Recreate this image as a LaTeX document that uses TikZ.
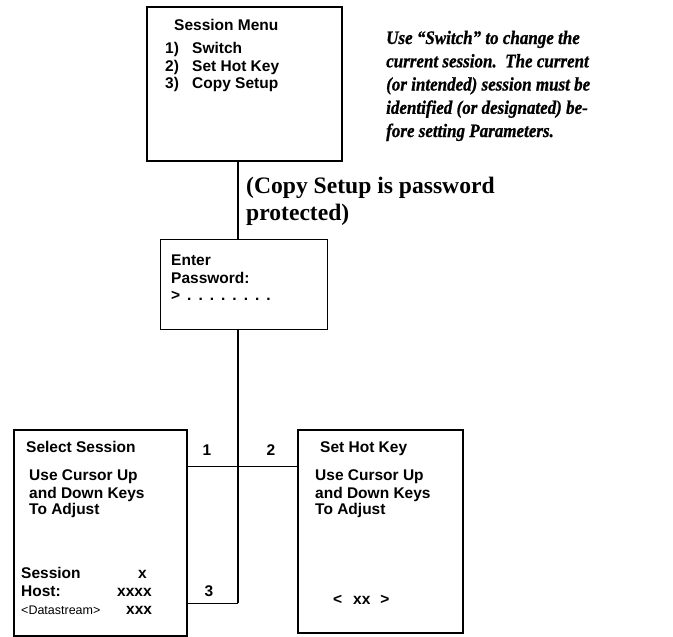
\documentclass[tikz,border=0pt]{standalone}
\usepackage{fontspec}
\setmainfont{Liberation Serif}
\setsansfont{Liberation Sans}
\newfontfamily\notefont{Liberation Serif}[BoldItalicFeatures={FakeBold=1}]
\begin{document}
\begin{tikzpicture}[x=1pt,y=-1pt,
  box/.style={draw, line width=1.6pt, inner sep=0pt, anchor=north west},
  thinbox/.style={draw, line width=1.1pt, inner sep=0pt, anchor=north west},
  lbl/.style={font=\sffamily\bfseries\fontsize{15.5}{17.5}\selectfont, anchor=base west, inner sep=0pt},
  small/.style={font=\sffamily\fontsize{12.5}{14}\selectfont, anchor=base west, inner sep=0pt},
  num/.style={font=\sffamily\bfseries\fontsize{15.5}{17.5}\selectfont, anchor=base, inner sep=0pt},
  inote/.style={font=\notefont\bfseries\itshape\fontsize{17}{23}\selectfont, anchor=base west, inner sep=0pt},
  bnote/.style={font=\rmfamily\bfseries\fontsize{23.6}{27}\selectfont, anchor=base west, inner sep=0pt},
  heavy/.style={line width=1.6pt},
  light/.style={line width=0.9pt}]
\useasboundingbox (0,0) rectangle (673,637);

% boxes
\node[box, minimum width=195pt, minimum height=154pt] (menu) at (146,6) {};
\node[thinbox, minimum width=167pt, minimum height=90pt] (pwd) at (160,239) {};
\node[box, minimum width=173pt, minimum height=206pt] (sel) at (13,429) {};
\node[box, minimum width=165pt, minimum height=203pt] (hot) at (297,429) {};

% connectors
\coordinate (jt) at (238,466);
\coordinate (jb) at (238,603);
\draw[heavy] (menu.south -| jt) -- (pwd.north -| jt);
\draw[heavy] (pwd.south -| jt) -- (jb);
\draw[light] (jb) -- (jb -| sel.east);
\draw[light] (jt -| sel.east) -- (jt -| hot.west);

% menu text
\node[lbl] (t1) at (174,30.7) {Session Menu};
\node[lbl] (n1) at (165,53.3) {1)};
\node[lbl] (s1) at (192,53.3) {Switch};
\node[lbl] (n2) at (165,71) {2)};
\node[lbl] (s2) at (192,71) {Set Hot Key};
\node[lbl] (n3) at (165,88.7) {3)};
\node[lbl] (s3) at (192,88.7) {Copy Setup};

% italic note
\node[inote] (i1) at (386,44) {\scalebox{1}[1.12]{Use “Switch” to change the}};
\node[inote] (i2) at (386,67.3) {\scalebox{1}[1.12]{current session.\ \ The current}};
\node[inote] (i3) at (386,90.5) {\scalebox{1}[1.12]{(or intended) session must be}};
\node[inote] (i4) at (386,113.8) {\scalebox{1}[1.12]{identified (or designated) be-}};
\node[inote] (i5) at (386,137) {\scalebox{1}[1.12]{fore setting Parameters.}};

% bold note
\node[bnote] (q1) at (246,193) {(Copy Setup is password};
\node[bnote] (q2) at (246,220) {protected)};

% password text
\node[lbl] (p1) at (171,265.7) {Enter};
\node[lbl] (p2) at (171,283.3) {Password:};
\node[lbl] (p3) at (171,300) {\spaceskip=7pt\xspaceskip=7pt > . . . . . . . .};

% select session
\node[lbl] (a1) at (26,452.3) {Select Session};
\node[lbl] (a2) at (29,480) {Use Cursor Up};
\node[lbl] (a3) at (29,498) {and Down Keys};
\node[lbl] (a4) at (29,514.3) {To Adjust};
\node[lbl] (a5) at (21,578.3) {Session};
\node[lbl] (a6) at (138,578.3) {x};
\node[lbl] (a7) at (21,596.7) {Host:};
\node[lbl] (a8) at (117,596.7) {xxxx};
\node[small] (a9) at (21,614.3) {<Datastream>};
\node[lbl] (a10) at (126,614.3) {xxx};

% hot key
\node[lbl] (b1) at (320,452.3) {Set Hot Key};
\node[lbl] (b2) at (315,480) {Use Cursor Up};
\node[lbl] (b3) at (315,498) {and Down Keys};
\node[lbl] (b4) at (315,514.3) {To Adjust};
\node[lbl] (b5) at (333,604) {<\hspace{11pt}xx\hspace{10pt}>};

% numbers
\node[num] (c1) at (207,455) {1};
\node[num] (c2) at (271,455) {2};
\node[num] (c3) at (209,596.7) {3};
\end{tikzpicture}
\end{document}
